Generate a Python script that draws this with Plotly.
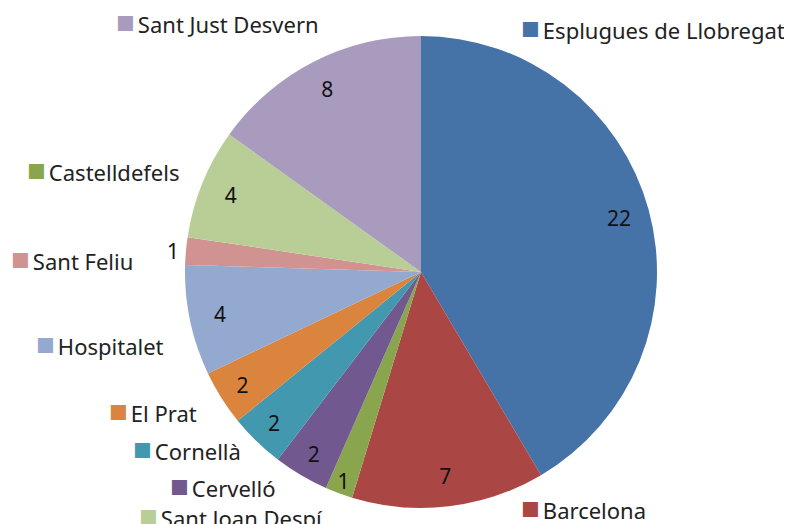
import plotly.graph_objects as go

# slices, clockwise from 12 o'clock
towns = ["Esplugues de Llobregat", "Barcelona", "Sant Joan Despí", "Cervelló", "Cornellà",
         "El Prat", "Hospitalet", "Sant Feliu", "Castelldefels", "Sant Just Desvern"]
counts = [22, 7, 1, 2, 2, 2, 4, 1, 4, 8]
slice_colors = ["#4572A7", "#AA4643", "#89A54E", "#71588F", "#4198AF",
                "#DB843D", "#93A9CF", "#D19392", "#B9CD96", "#A99BBD"]
# the legend squares in the original swap the two greens
key_colors = ["#4572A7", "#AA4643", "#B9CD96", "#71588F", "#4198AF",
              "#DB843D", "#93A9CF", "#D19392", "#89A54E", "#A99BBD"]
text_pos = ["inside"] * 7 + ["outside"] + ["inside"] * 2

FONT = "Noto Sans"
W, H = 784, 516   # page body has an 8px margin
OFF = 8


def px2paper(px, py):
    return (px - OFF) / W, 1 - (py - OFF) / H


cx, cy, r = 421, 272, 236
x0, y1 = px2paper(cx - r, cy - r)
x1, y0 = px2paper(cx + r, cy + r)
pie_domain = dict(x=[x0, x1], y=[y0, y1])

fig = go.Figure()

# the filled pie
fig.add_trace(go.Pie(
    labels=towns, values=counts, sort=False, direction="clockwise", rotation=0,
    marker=dict(colors=slice_colors, line=dict(width=0)),
    textinfo="none", domain=pie_domain, showlegend=False,
    hoverinfo="label+value",
))

# transparent ring on top just to carry the value labels near the rim
fig.add_trace(go.Pie(
    labels=towns, values=counts, sort=False, direction="clockwise", rotation=0,
    hole=0.74,
    marker=dict(colors=["rgba(0,0,0,0)"] * len(towns), line=dict(width=0)),
    texttemplate="%{value}", textposition=text_pos,
    insidetextorientation="horizontal",
    textfont=dict(family=FONT, size=21, color="#111111"),
    domain=pie_domain, showlegend=False, hoverinfo="skip",
))

# label placement beside the pie (page px): left edge of square, vertical centre
label_xy = {
    "Sant Just Desvern": (114, 21),
    "Esplugues de Llobregat": (519, 27),
    "Castelldefels": (25, 169),
    "Sant Feliu": (9, 258),
    "Hospitalet": (34, 343),
    "El Prat": (107, 410),
    "Cornellà": (131, 448),
    "Cervelló": (168, 485),
    "Sant Joan Despí": (137, 515),
    "Barcelona": (519, 507),
}

for town, col in zip(towns, key_colors):
    ax, ay = px2paper(*label_xy[town])
    fig.add_annotation(
        x=ax, y=ay, xref="paper", yref="paper",
        xanchor="left", yanchor="middle", showarrow=False,
        text=(f"<span style='color:{col};font-size:31px'>■</span>"
              f"<span style='font-size:12px'> </span>{town}"),
        font=dict(family=FONT, size=22, color="#222222"),
    )

fig.update_layout(
    width=W, height=H,
    margin=dict(l=0, r=0, t=0, b=0),
    paper_bgcolor="white",
    plot_bgcolor="white",
    uniformtext=dict(minsize=21, mode="show"),
)

fig.write_html("out.html")
